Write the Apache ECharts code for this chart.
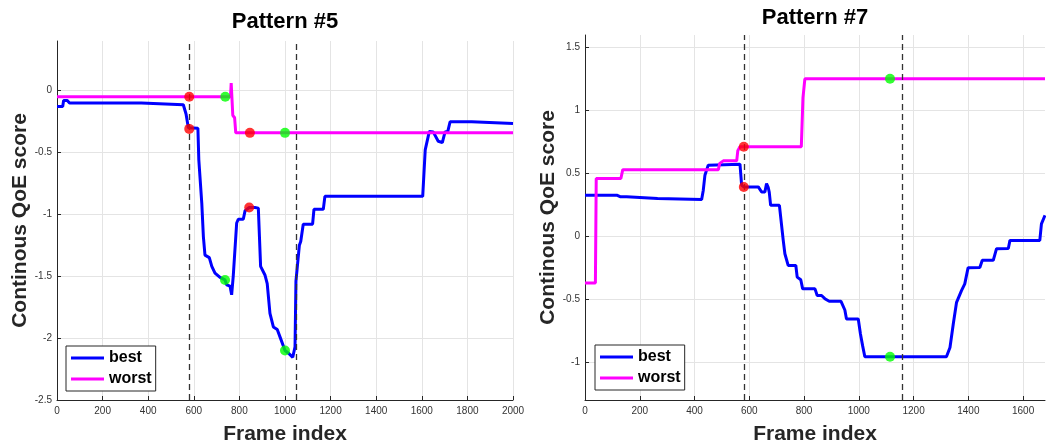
<!DOCTYPE html>
<html><head><meta charset="utf-8">
<script src="https://cdn.jsdelivr.net/npm/echarts@6/dist/echarts.min.js"></script>
<style>html,body{margin:0;padding:0;background:#fff}#c{width:1046px;height:443px}</style>
</head><body><div id="c"></div>
<script>
// ---------- data ----------
const titles = ['Pattern #5', 'Pattern #7'];
const seriesNames = ['best', 'worst'];
const p5Best = [[0,-0.13],[25,-0.13],[29,-0.08],[45,-0.08],[55,-0.1],[370,-0.1],[375,-0.115],[554,-0.115],[566,-0.19],[576,-0.3],[580,-0.31],[618,-0.305],[622,-0.56],[635,-0.91],[642,-1.18],[649,-1.33],[668,-1.35],[679,-1.42],[693,-1.475],[715,-1.51],[737,-1.53],[744,-1.57],[759,-1.58],[766,-1.65],[773,-1.5],[781,-1.49],[788,-1.07],[795,-1.04],[817,-1.04],[825,-0.97],[843,-0.945],[868,-0.945],[883,-0.95],[893,-1.42],[912,-1.49],[922,-1.56],[934,-1.8],[949,-1.91],[966,-1.93],[978,-1.99],[1000,-2.1],[1014,-2.12],[1034,-2.155],[1044,-2.07],[1048,-1.54],[1063,-1.25],[1069,-1.22],[1080,-1.08],[1121,-1.08],[1127,-0.96],[1168,-0.96],[1175,-0.855],[1604,-0.855],[1615,-0.48],[1633,-0.33],[1650,-0.334],[1672,-0.41],[1690,-0.42],[1702,-0.334],[1714,-0.33],[1724,-0.253],[1819,-0.253],[1826,-0.267],[2000,-0.267]];
const p5Worst = [[0,-0.05],[761,-0.05],[764,0.06],[771,-0.2],[779,-0.22],[784,-0.342],[2000,-0.342]];
const p5Red = [[580,-0.05],[580,-0.31],[846,-0.342],[843,-0.945]];
const p5Green = [[738,-0.05],[1000,-0.342],[737,-1.53],[1000,-2.1]];
const p5VLines = [580, 1050];

const p7Best = [[0,0.327],[116,0.327],[128,0.315],[152,0.315],[158,0.3],[265,0.3],[270,0.293],[426,0.293],[432,0.367],[438,0.486],[450,0.566],[456,0.574],[566,0.574],[572,0.407],[580,0.393],[633,0.393],[645,0.353],[657,0.353],[663,0.42],[669,0.39],[673,0.35],[678,0.247],[710,0.247],[724,-0.032],[730,-0.138],[742,-0.231],[770,-0.231],[775,-0.324],[788,-0.345],[795,-0.417],[840,-0.417],[848,-0.47],[864,-0.47],[876,-0.495],[892,-0.516],[935,-0.516],[949,-0.585],[955,-0.657],[998,-0.657],[1006,-0.776],[1014,-0.87],[1022,-0.957],[1320,-0.957],[1333,-0.883],[1345,-0.696],[1357,-0.524],[1375,-0.431],[1387,-0.377],[1399,-0.25],[1442,-0.248],[1451,-0.19],[1491,-0.19],[1503,-0.098],[1546,-0.096],[1552,-0.032],[1661,-0.032],[1667,0.1],[1680,0.167]];
const p7Worst = [[0,-0.37],[38,-0.37],[41,0.46],[131,0.46],[138,0.53],[487,0.53],[492,0.58],[505,0.6],[554,0.6],[558,0.68],[566,0.712],[790,0.712],[796,1.1],[803,1.252],[1680,1.252]];
const p7Red = [[580,0.712],[580,0.393]];
const p7Green = [[1114,1.252],[1114,-0.957]];
const p7VLines = [581, 1160];

// ---------- styling ----------
const FONT = '"Liberation Sans", Arial, Helvetica, sans-serif';
const AX = '#262626';
const chart = echarts.init(document.getElementById('c'));
const plain = v => String(v);

function xAxisCfg(gi, max, hideMax) {
  return {
    gridIndex: gi, type: 'value', min: 0, max: max, interval: 200,
    name: 'Frame index', nameLocation: 'middle', nameGap: 24,
    nameTextStyle: {fontSize: 21, fontWeight: 'bold', color: AX, fontFamily: FONT},
    axisLine: {show: true, onZero: false, lineStyle: {color: AX, width: 1}},
    axisTick: {show: true, inside: true, length: 4, lineStyle: {color: AX}},
    axisLabel: {fontSize: 10, color: '#333', margin: 6, fontFamily: FONT, showMaxLabel: !hideMax, formatter: plain},
    splitLine: {show: true, showMaxLine: !hideMax, lineStyle: {color: '#e4e4e4', width: 1}}
  };
}
function yAxisCfg(gi, min, max, interval) {
  const c = {
    gridIndex: gi, type: 'value', min: min, max: max,
    name: 'Continous QoE score', nameLocation: 'middle', nameGap: 20,
    nameTextStyle: {fontSize: 21, fontWeight: 'bold', color: AX, fontFamily: FONT},
    axisLine: {show: true, onZero: false, lineStyle: {color: AX, width: 1}},
    axisTick: {show: true, inside: true, length: 4, lineStyle: {color: AX}},
    axisLabel: {fontSize: 10, color: '#333', margin: 5, fontFamily: FONT, showMaxLabel: false, showMinLabel: interval ? true : false, formatter: plain},
    splitLine: {show: true, showMaxLine: false, showMinLine: false, lineStyle: {color: '#e4e4e4', width: 1}}
  };
  if (interval) c.interval = interval;
  return c;
}
function legendCfg(left, top) {
  return {
    orient: 'vertical', left: left, top: top,
    data: seriesNames.map(n => ({name: n, icon: 'rect'})),
    itemWidth: 33, itemHeight: 3, itemGap: 1,
    padding: [2, 4, 2, 5],
    backgroundColor: '#fff', borderColor: AX, borderWidth: 1, borderRadius: 0,
    textStyle: {fontSize: 16, fontWeight: 'bold', color: '#000', fontFamily: FONT, lineHeight: 20},
    selectedMode: false
  };
}
function lineSeries(name, data, color, xi, vlines) {
  const s = {
    name: name, type: 'line', xAxisIndex: xi, yAxisIndex: xi, data: data,
    showSymbol: false, symbol: 'none', color: color,
    lineStyle: {width: 3, color: color}, z: 2, silent: true
  };
  if (vlines) {
    s.markLine = {
      silent: true, symbol: 'none', label: {show: false}, animation: false,
      lineStyle: {type: [6, 4], color: '#333', width: 1.3},
      data: vlines.map(v => ({xAxis: v}))
    };
  }
  return s;
}
function dots(data, color, xi) {
  return {type: 'scatter', xAxisIndex: xi, yAxisIndex: xi, data: data, symbol: 'circle',
          symbolSize: 10, itemStyle: {color: color}, z: 5, silent: true};
}

chart.setOption({
  animation: false,
  title: [
    {text: titles[0], left: 285, top: 11, textAlign: 'center', padding: 0,
     textStyle: {fontSize: 22, fontWeight: 'bold', color: '#000', fontFamily: FONT}},
    {text: titles[1], left: 815, top: 7, textAlign: 'center', padding: 0,
     textStyle: {fontSize: 22, fontWeight: 'bold', color: '#000', fontFamily: FONT}}
  ],
  legend: [legendCfg(66, 346), legendCfg(595, 345)],
  grid: [
    {left: 57, top: 41, width: 456, height: 359, containLabel: false, outerBoundsMode: 'none'},
    {left: 585, top: 35, width: 460, height: 365, containLabel: false, outerBoundsMode: 'none'}
  ],
  xAxis: [xAxisCfg(0, 2000, false), xAxisCfg(1, 1680, true)],
  yAxis: [yAxisCfg(0, -2.5, 0.4, 0.5), yAxisCfg(1, -1.3, 1.6, null)],
  series: [
    lineSeries('best', p5Best, '#0000ff', 0, null),
    lineSeries('worst', p5Worst, '#ff00ff', 0, p5VLines),
    dots(p5Red, '#ff0000', 0),
    dots(p5Green, '#00ff00', 0),
    lineSeries('best', p7Best, '#0000ff', 1, null),
    lineSeries('worst', p7Worst, '#ff00ff', 1, p7VLines),
    dots(p7Red, '#ff0000', 1),
    dots(p7Green, '#00ff00', 1)
  ]
});
</script></body></html>
